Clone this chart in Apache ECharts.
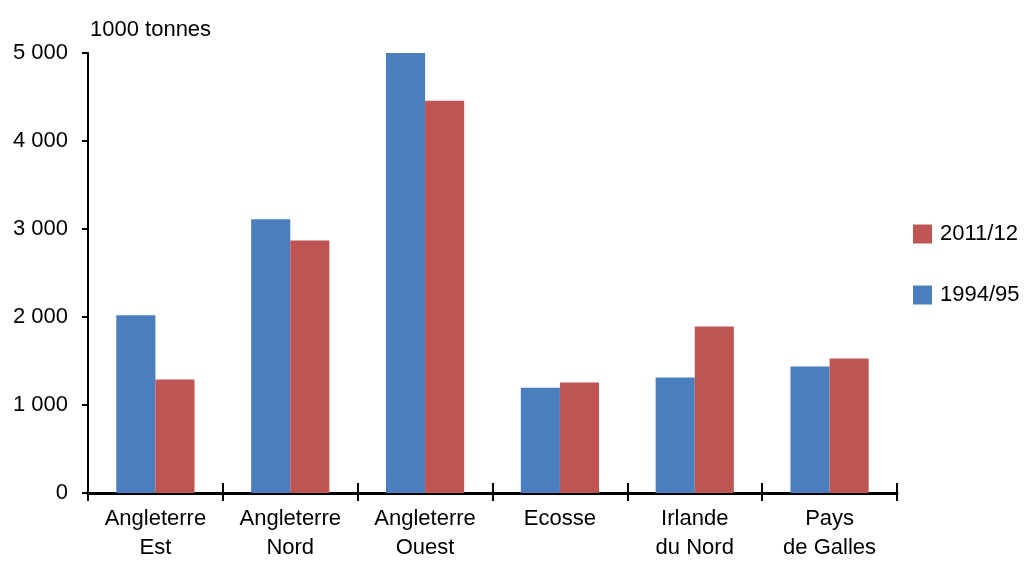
<!DOCTYPE html>
<html>
<head>
<meta charset="utf-8">
<script src="https://cdn.jsdelivr.net/npm/echarts@6/dist/echarts.min.js"></script>
<style>
  html, body { margin: 0; padding: 0; background: #ffffff; overflow: hidden; }
  #chart { width: 1024px; height: 562px; }
</style>
</head>
<body>
<div id="chart"></div>
<script>
// Regions of the United Kingdom
const regions = ['Angleterre\nEst', 'Angleterre\nNord', 'Angleterre\nOuest', 'Ecosse', 'Irlande\ndu Nord', 'Pays\nde Galles'];
// Quantities in thousand tonnes
const values1994 = [2020, 3110, 5010, 1195, 1312, 1437];
const values2011 = [1290, 2870, 4457, 1256, 1893, 1527];
const seriesNames = ['2011/12', '1994/95'];
const yTicks = { min: 0, max: 5000, interval: 1000 };

const FONT = '"Liberation Sans Narrow", "Liberation Sans", Arial, sans-serif';
const BLUE = '#4A7EBF';
const RED = '#BE5552';

const chart = echarts.init(document.getElementById('chart'), null, { renderer: 'canvas' });

const fmtThousands = v => String(v).replace(/\B(?=(\d{3})+(?!\d))/g, ' ');

chart.setOption({
  animation: false,
  backgroundColor: '#ffffff',
  textStyle: { fontFamily: FONT },
  grid: { left: 88, right: 127, top: 53, bottom: 65, containLabel: false },
  graphic: [{
    type: 'text',
    left: 90,
    top: 19,
    style: { text: '1000 tonnes', fontFamily: FONT, fontSize: 22, fill: '#000' }
  }],
  legend: {
    orient: 'vertical',
    left: 908,
    top: 218,
    itemWidth: 19,
    itemHeight: 19,
    itemGap: 39,
    icon: 'rect',
    data: seriesNames,
    textStyle: { fontFamily: FONT, fontSize: 22, color: '#000', padding: [0, 0, 0, 3] }
  },
  xAxis: [{
    type: 'category',
    data: regions,
    position: 'bottom',
    axisLine: { lineStyle: { color: '#000', width: 3 } },
    axisTick: { show: true, length: 8, lineStyle: { color: '#000', width: 2 } },
    axisLabel: { fontFamily: FONT, fontSize: 22, color: '#000', lineHeight: 29, margin: 11 },
    splitLine: { show: false }
  }, {
    // inner half of the category ticks, so they cross the baseline
    type: 'category',
    data: regions,
    position: 'bottom',
    axisLine: { show: false },
    axisTick: { show: true, inside: true, length: 10, lineStyle: { color: '#000', width: 2 } },
    axisLabel: { show: false },
    splitLine: { show: false }
  }],
  yAxis: {
    type: 'value',
    min: yTicks.min,
    max: yTicks.max,
    interval: yTicks.interval,
    axisLine: { show: true, lineStyle: { color: '#000', width: 2 } },
    axisTick: { show: true, length: 6, lineStyle: { color: '#000', width: 2 } },
    axisLabel: { fontFamily: FONT, fontSize: 22, color: '#000', margin: 20, formatter: fmtThousands },
    splitLine: { show: false }
  },
  series: [{
    name: '1994/95',
    type: 'bar',
    data: values1994,
    xAxisIndex: 0,
    barGap: '0%',
    barCategoryGap: '42%',
    itemStyle: { color: BLUE }
  }, {
    name: '2011/12',
    type: 'bar',
    data: values2011,
    xAxisIndex: 0,
    barGap: '0%',
    barCategoryGap: '42%',
    itemStyle: { color: RED }
  }]
});
</script>
</body>
</html>
